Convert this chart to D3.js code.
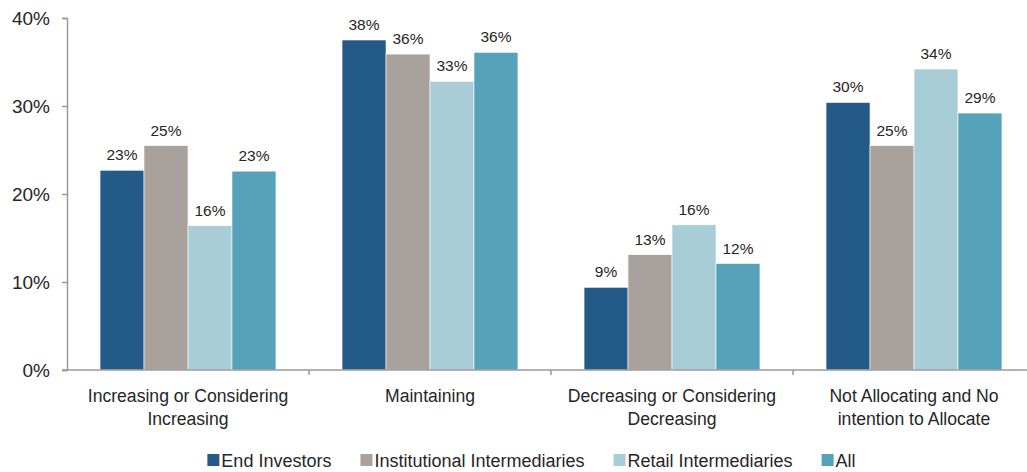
<!DOCTYPE html>
<html>
<head>
<meta charset="utf-8">
<script src="https://cdn.jsdelivr.net/npm/d3@7"></script>
<style>
  body { margin: 0; background: #fff; }
  svg { font-family: "Liberation Sans", Arial, sans-serif; }
</style>
</head>
<body>
<div id="chart"></div>
<script>
// data
const categories = [
  ['Increasing or Considering', 'Increasing'],
  ['Maintaining'],
  ['Decreasing or Considering', 'Decreasing'],
  ['Not Allocating and No', 'intention to Allocate']
];
const series = ['End Investors', 'Institutional Intermediaries', 'Retail Intermediaries', 'All'];
const colors = ['#245a87', '#a9a19b', '#a8cdd6', '#55a2ba'];
const endInvestors = [0.227, 0.375, 0.094, 0.304];
const institutional = [0.255, 0.359, 0.131, 0.255];
const retail = [0.164, 0.328, 0.165, 0.342];
const all = [0.226, 0.361, 0.121, 0.292];
const labels = [
  ['23%', '25%', '16%', '23%'],
  ['38%', '36%', '33%', '36%'],
  ['9%', '13%', '16%', '12%'],
  ['30%', '25%', '34%', '29%']
];
const yTicks = [0, 0.1, 0.2, 0.3, 0.4];

const values = [endInvestors, institutional, retail, all];

const width = 1027, height = 472;
const mLeft = 67, mTop = 18, mBottom = 370;
const axisColor = '#9a9a9a';
const textColor = '#262626';

const svg = d3.select('#chart')
  .append('svg')
    .attr('width', width)
    .attr('height', height);

const catIdx = categories.map((d, i) => i);
const x0 = d3.scaleBand()
  .domain(catIdx)
  .range([mLeft, 1035])
  .paddingInner(0.273)
  .paddingOuter(0.1365);
const x1 = d3.scaleBand()
  .domain(series)
  .range([0, x0.bandwidth()]);
const y = d3.scaleLinear().domain([0, 0.4]).range([mBottom, mTop]);

// y axis
const yAxis = d3.axisLeft(y)
  .tickValues(yTicks)
  .tickFormat(d3.format('.0%'))
  .tickSize(5)
  .tickPadding(12);

const gy = svg.append('g')
  .attr('transform', `translate(${mLeft},0)`)
  .call(yAxis);
gy.select('.domain').attr('stroke', axisColor).attr('stroke-width', 1.5);
gy.selectAll('.tick line').attr('stroke', axisColor).attr('stroke-width', 1.5);
gy.selectAll('.tick text')
  .attr('fill', textColor)
  .attr('font-size', 19)
  .attr('font-family', '"Liberation Sans", Arial, sans-serif');

// bars
const groups = svg.selectAll('g.group')
  .data(catIdx)
  .enter().append('g')
    .attr('class', 'group')
    .attr('transform', d => `translate(${x0(d)},0)`);

groups.selectAll('rect')
  .data(c => series.map((s, j) => ({s, j, v: values[j][c], label: labels[c][j]})))
  .enter().append('rect')
    .attr('x', d => x1(d.s))
    .attr('y', d => y(d.v))
    .attr('width', x1.bandwidth())
    .attr('height', d => y(0) - y(d.v))
    .attr('fill', d => colors[d.j])
    .attr('stroke', '#fff')
    .attr('stroke-width', 0.6);

groups.selectAll('text.val')
  .data(c => series.map((s, j) => ({s, j, v: values[j][c], label: labels[c][j]})))
  .enter().append('text')
    .attr('class', 'val')
    .attr('x', d => x1(d.s) + x1.bandwidth() / 2)
    .attr('y', d => y(d.v) - 10)
    .attr('text-anchor', 'middle')
    .attr('font-size', 15.5)
    .attr('fill', textColor)
    .text(d => d.label);

// x axis line
svg.append('line')
  .attr('x1', mLeft - 5)
  .attr('x2', width)
  .attr('y1', mBottom)
  .attr('y2', mBottom)
  .attr('stroke', axisColor)
  .attr('stroke-width', 1.5);

// boundary ticks between categories
svg.selectAll('line.sep')
  .data(catIdx.slice(1))
  .enter().append('line')
    .attr('class', 'sep')
    .attr('x1', d => x0.range()[0] + d * x0.step())
    .attr('x2', d => x0.range()[0] + d * x0.step())
    .attr('y1', mBottom)
    .attr('y2', mBottom + 5)
    .attr('stroke', axisColor)
    .attr('stroke-width', 1.5);

// category labels
const catText = svg.selectAll('text.cat')
  .data(catIdx)
  .enter().append('text')
    .attr('class', 'cat')
    .attr('x', d => x0(d) + x0.bandwidth() / 2)
    .attr('y', 402)
    .attr('text-anchor', 'middle')
    .attr('font-size', 17.6)
    .attr('fill', textColor);

catText.selectAll('tspan')
  .data(d => categories[d].map(t => ({t, cx: x0(d) + x0.bandwidth() / 2})))
  .enter().append('tspan')
    .attr('x', d => d.cx)
    .attr('dy', (d, i) => i === 0 ? 0 : 23)
    .text(d => d.t);

// legend
const legend = svg.append('g');
let lx = 0;
series.forEach((s, i) => {
  const item = legend.append('g').attr('transform', `translate(${lx},0)`);
  item.append('rect')
    .attr('x', 0)
    .attr('y', -6)
    .attr('width', 12)
    .attr('height', 12)
    .attr('fill', colors[i]);
  const t = item.append('text')
    .attr('x', 14)
    .attr('y', 6.5)
    .attr('font-size', 18)
    .attr('fill', textColor)
    .text(s);
  lx += 14 + t.node().getComputedTextLength() + 29;
});
const legendW = lx - 29;
legend.attr('transform', `translate(${531.5 - legendW / 2},460)`);
</script>
</body>
</html>
